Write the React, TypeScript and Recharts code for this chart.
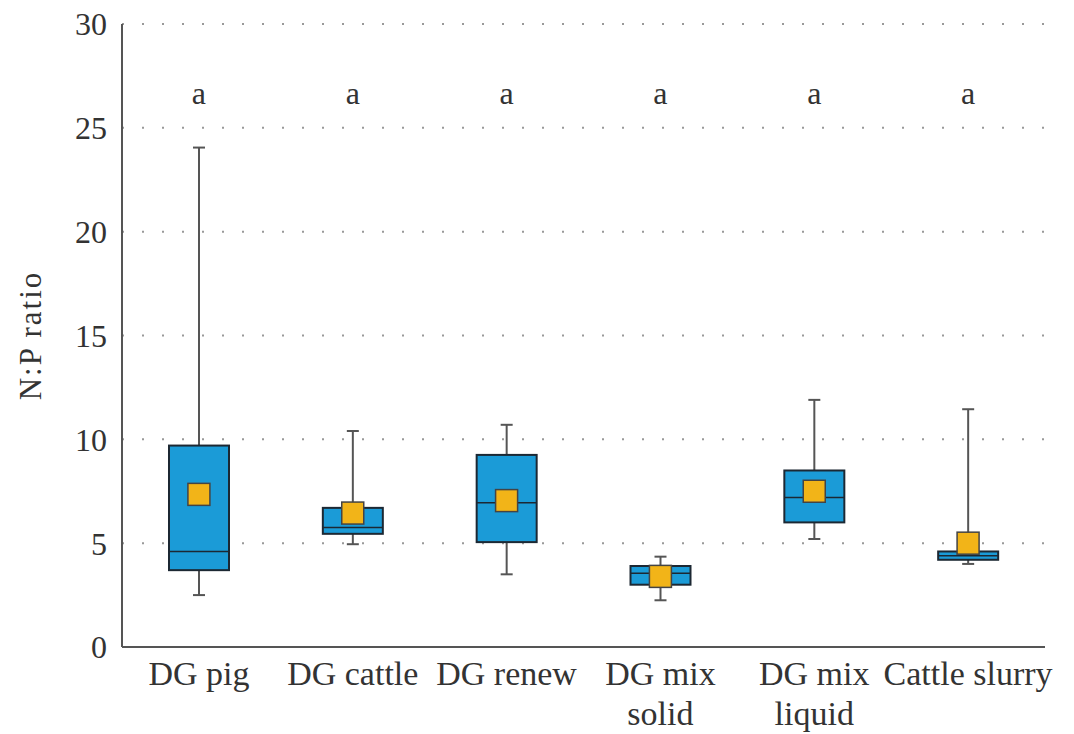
import { ComposedChart, Bar, Scatter, XAxis, YAxis, CartesianGrid, ReferenceDot } from 'recharts';

// categories and their tick label lines
const categories = ['DG pig', 'DG cattle', 'DG renew', 'DG mix solid', 'DG mix liquid', 'Cattle slurry'];
const tickLines: string[][] = [['DG pig'], ['DG cattle'], ['DG renew'], ['DG mix', 'solid'], ['DG mix', 'liquid'], ['Cattle slurry']];

// box plot statistics
const mins = [2.5, 4.95, 3.5, 2.25, 5.2, 4.0];
const q1s = [3.7, 5.45, 5.05, 3.0, 6.0, 4.2];
const medians = [4.6, 5.75, 6.95, 3.55, 7.2, 4.4];
const q3s = [9.7, 6.7, 9.25, 3.9, 8.5, 4.6];
const maxs = [24.05, 10.4, 10.7, 4.35, 11.9, 11.45];
const means = [7.35, 6.45, 7.05, 3.4, 7.5, 5.0];
const letters = ['a', 'a', 'a', 'a', 'a', 'a'];

const yTicks = [0, 5, 10, 15, 20, 25, 30];
const LETTER_LEVEL = 26.7;

const FONT = 'Liberation Serif, DejaVu Serif, serif';
const TEXT = '#333';
const BOX_FILL = '#1b9bd7';
const MEAN_FILL = '#f2b418';

const data = categories.map((name, i) => ({
  name,
  min: mins[i],
  q1: q1s[i],
  median: medians[i],
  q3: q3s[i],
  max: maxs[i],
  mean: means[i],
  iqr: q3s[i] - q1s[i],
}));

// draws whiskers, box and median, scaled from the stacked bar's own geometry
function BoxShape(props: any) {
  const { x, y, width, height, payload } = props;
  const ppu = height / (payload.q3 - payload.q1);
  const cx = x + width / 2;
  const top = y - (payload.max - payload.q3) * ppu;
  const bottom = y + height + (payload.q1 - payload.min) * ppu;
  const med = y + (payload.q3 - payload.median) * ppu;
  const cap = 6;
  return (
    <g>
      <line x1={cx} x2={cx} y1={top} y2={y} stroke="#555" strokeWidth={2} />
      <line x1={cx} x2={cx} y1={y + height} y2={bottom} stroke="#555" strokeWidth={2} />
      <line x1={cx - cap} x2={cx + cap} y1={top} y2={top} stroke="#555" strokeWidth={2} />
      <line x1={cx - cap} x2={cx + cap} y1={bottom} y2={bottom} stroke="#555" strokeWidth={2} />
      <rect x={x} y={y} width={width} height={height} fill={BOX_FILL} stroke="#1c2833" strokeWidth={2} />
      <line x1={x} x2={x + width} y1={med} y2={med} stroke="#1c2833" strokeWidth={1.5} />
    </g>
  );
}

function MeanMarker(props: any) {
  const { cx, cy } = props;
  const s = 22;
  return <rect x={cx - s / 2} y={cy - s / 2} width={s} height={s} fill={MEAN_FILL} stroke="#444" strokeWidth={1.5} />;
}

function CategoryTick(props: any) {
  const { x, y, index } = props;
  const lines = tickLines[index] ?? [];
  return (
    <text x={x} y={y + 38} textAnchor="middle" fill={TEXT} style={{ fontFamily: FONT, fontSize: 34 }}>
      {lines.map((line, k) => (
        <tspan key={k} x={x} dy={k === 0 ? 0 : 40}>
          {line}
        </tspan>
      ))}
    </text>
  );
}

export default function App() {
  return (
    <div style={{ position: 'absolute', left: 0, top: 0, background: '#fff', fontFamily: FONT }}>
      <ComposedChart
        width={1074}
        height={734}
        data={data}
        margin={{ top: 24, right: 29, bottom: 0, left: 0 }}
        style={{ fontFamily: FONT }}
      >
        <CartesianGrid vertical={false} stroke="#999" strokeWidth={2} strokeDasharray="2 18" />
        <XAxis
          dataKey="name"
          height={87}
          tickLine={false}
          tickSize={0}
          tickMargin={0}
          axisLine={{ stroke: '#555', strokeWidth: 2 }}
          tick={<CategoryTick />}
          interval={0}
        />
        <YAxis
          width={122}
          domain={[0, 30]}
          ticks={yTicks}
          tickLine={false}
          tickSize={0}
          tickMargin={15}
          axisLine={{ stroke: '#555', strokeWidth: 2 }}
          tick={{ fill: TEXT, fontSize: 32, style: { fontFamily: FONT } }}
          label={{
            value: 'N:P ratio',
            angle: -90,
            position: 'insideLeft',
            offset: 30,
            style: { fill: TEXT, fontFamily: FONT, fontSize: 31, letterSpacing: 2, textAnchor: 'middle' },
          }}
        />
        <Bar dataKey="q1" stackId="box" fill="transparent" barSize={60} isAnimationActive={false} />
        <Bar dataKey="iqr" stackId="box" barSize={60} shape={<BoxShape />} isAnimationActive={false} />
        <Scatter dataKey="mean" shape={<MeanMarker />} isAnimationActive={false} />
        {categories.map((name, i) => (
          <ReferenceDot
            key={name}
            x={name}
            y={LETTER_LEVEL}
            r={0}
            fill="none"
            stroke="none"
            label={{ value: letters[i], position: 'center', fill: TEXT, fontSize: 32, style: { fontFamily: FONT } }}
          />
        ))}
      </ComposedChart>
    </div>
  );
}
